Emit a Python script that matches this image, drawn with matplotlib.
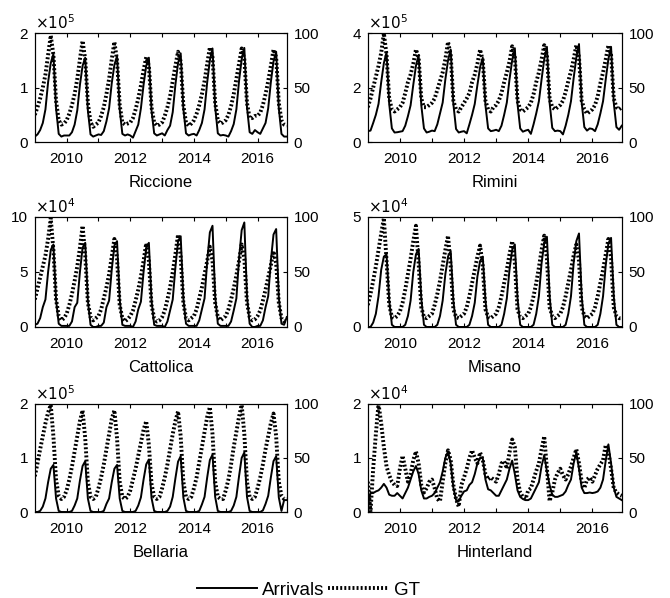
import matplotlib.pyplot as plt
from matplotlib.lines import Line2D

plt.rcParams['font.family'] = ['Liberation Sans', 'DejaVu Sans']

years = list(range(2009, 2017))
tick_years = list(range(2010, 2017))
tick_labels = ['2010', '', '2012', '', '2014', '', '2016']
gt_ticks = [0, 50, 100]

# monthly values, one row per year (Jan..Dec)
# arrivals in axis units (x10^5 or x10^4), GT index 0-100
riccione_arr = [
    [0.10, 0.14, 0.22, 0.35, 0.60, 1.10, 1.45, 1.62, 0.62, 0.15, 0.10, 0.12],
    [0.12, 0.12, 0.18, 0.32, 0.58, 1.05, 1.40, 1.55, 0.58, 0.14, 0.10, 0.12],
    [0.14, 0.13, 0.20, 0.38, 0.62, 1.08, 1.42, 1.58, 0.60, 0.15, 0.12, 0.14],
    [0.12, 0.08, 0.20, 0.32, 0.62, 1.05, 1.40, 1.55, 0.58, 0.16, 0.12, 0.14],
    [0.16, 0.12, 0.22, 0.30, 0.55, 1.05, 1.45, 1.63, 0.62, 0.16, 0.12, 0.14],
    [0.15, 0.12, 0.22, 0.35, 0.60, 1.10, 1.50, 1.72, 0.65, 0.16, 0.12, 0.13],
    [0.12, 0.10, 0.20, 0.33, 0.60, 1.12, 1.52, 1.73, 0.64, 0.18, 0.15, 0.22],
    [0.18, 0.15, 0.25, 0.35, 0.62, 1.10, 1.48, 1.66, 0.62, 0.15, 0.10, 0.10],
]
riccione_gt = [
    [25, 32, 40, 50, 62, 80, 98, 80, 38, 20, 16, 17],
    [20, 26, 34, 44, 58, 76, 93, 76, 36, 18, 14, 16],
    [18, 24, 32, 44, 58, 76, 92, 75, 34, 18, 16, 17],
    [18, 22, 30, 40, 52, 66, 78, 70, 32, 18, 15, 16],
    [18, 24, 32, 42, 56, 70, 83, 74, 34, 18, 15, 17],
    [20, 26, 34, 44, 56, 72, 87, 78, 36, 20, 17, 18],
    [20, 25, 33, 44, 58, 72, 86, 76, 36, 22, 22, 24],
    [24, 27, 34, 44, 56, 70, 85, 78, 36, 20, 16, 15],
]

rimini_arr = [
    [0.40, 0.42, 0.70, 1.00, 1.40, 2.20, 2.90, 3.30, 1.40, 0.50, 0.35, 0.36],
    [0.38, 0.40, 0.60, 0.95, 1.35, 2.10, 2.80, 3.20, 1.35, 0.50, 0.35, 0.38],
    [0.42, 0.40, 0.65, 1.05, 1.45, 2.30, 3.00, 3.40, 1.40, 0.48, 0.35, 0.38],
    [0.40, 0.32, 0.65, 1.00, 1.40, 2.10, 2.75, 3.10, 1.35, 0.50, 0.40, 0.42],
    [0.45, 0.40, 0.60, 1.00, 1.45, 2.30, 3.00, 3.45, 1.40, 0.50, 0.38, 0.42],
    [0.45, 0.30, 0.65, 1.05, 1.50, 2.30, 3.05, 3.50, 1.45, 0.52, 0.40, 0.42],
    [0.40, 0.28, 0.60, 1.00, 1.50, 2.35, 3.10, 3.60, 1.45, 0.55, 0.42, 0.50],
    [0.48, 0.40, 0.65, 1.05, 1.50, 2.30, 3.05, 3.50, 1.45, 0.55, 0.45, 0.60],
]
rimini_gt = [
    [32, 40, 50, 60, 70, 82, 100, 80, 40, 30, 28, 30],
    [32, 36, 45, 55, 62, 72, 85, 78, 40, 32, 32, 34],
    [36, 40, 48, 56, 64, 76, 92, 80, 38, 30, 28, 32],
    [36, 40, 45, 55, 62, 72, 85, 75, 38, 30, 28, 32],
    [34, 38, 45, 55, 64, 74, 88, 78, 38, 30, 28, 30],
    [32, 36, 44, 55, 64, 76, 89, 80, 40, 32, 30, 32],
    [34, 38, 46, 56, 65, 76, 89, 78, 38, 30, 26, 28],
    [30, 34, 42, 54, 64, 76, 89, 80, 40, 32, 30, 32],
]

cattolica_arr = [
    [0.2, 0.3, 0.8, 1.8, 2.5, 5.0, 7.0, 7.5, 2.5, 0.3, 0.1, 0.1],
    [0.1, 0.1, 0.5, 1.8, 2.2, 5.0, 7.2, 7.65, 2.4, 0.2, 0.0, 0.0],
    [0.1, 0.1, 0.4, 1.8, 2.4, 5.2, 7.4, 7.8, 2.5, 0.2, 0.1, 0.1],
    [0.1, 0.0, 0.5, 1.6, 2.3, 5.0, 7.2, 7.65, 2.4, 0.2, 0.1, 0.1],
    [0.1, 0.0, 0.5, 1.5, 2.5, 5.4, 7.8, 8.25, 2.6, 0.3, 0.1, 0.1],
    [0.1, 0.1, 0.6, 1.6, 2.6, 6.0, 8.6, 9.2, 2.8, 0.3, 0.1, 0.1],
    [0.1, 0.1, 0.5, 1.5, 2.6, 6.2, 8.8, 9.5, 2.8, 0.3, 0.0, 0.0],
    [0.1, 0.1, 0.6, 1.8, 2.8, 6.0, 8.4, 8.9, 2.7, 0.3, 0.2, 0.9],
]
cattolica_gt = [
    [25, 35, 45, 55, 65, 80, 99, 70, 25, 10, 6, 8],
    [12, 20, 30, 42, 55, 72, 92, 65, 22, 9, 6, 8],
    [10, 16, 26, 36, 48, 64, 80, 62, 20, 8, 5, 7],
    [10, 15, 24, 34, 46, 60, 76, 60, 20, 8, 5, 6],
    [9, 15, 25, 36, 50, 66, 84, 64, 22, 8, 6, 8],
    [10, 16, 26, 36, 48, 60, 73, 60, 22, 9, 6, 8],
    [10, 16, 25, 35, 47, 60, 75, 62, 22, 9, 6, 7],
    [10, 15, 24, 34, 45, 56, 69, 58, 22, 8, 5, 6],
]

misano_arr = [
    [0.0, 0.0, 0.2, 0.6, 1.4, 2.6, 3.2, 3.3, 1.2, 0.1, 0.0, 0.0],
    [0.0, 0.0, 0.1, 0.5, 1.2, 2.5, 3.3, 3.55, 1.3, 0.1, 0.0, 0.0],
    [0.0, 0.0, 0.1, 0.5, 1.2, 2.4, 3.2, 3.45, 1.2, 0.1, 0.0, 0.0],
    [0.0, 0.0, 0.1, 0.5, 1.1, 2.3, 3.0, 3.2, 1.2, 0.1, 0.0, 0.0],
    [0.0, 0.0, 0.1, 0.6, 1.3, 2.6, 3.5, 3.75, 1.3, 0.1, 0.0, 0.0],
    [0.0, 0.0, 0.1, 0.6, 1.4, 2.9, 3.8, 4.1, 1.4, 0.1, 0.0, 0.0],
    [0.0, 0.0, 0.1, 0.6, 1.4, 2.9, 3.9, 4.25, 1.4, 0.1, 0.0, 0.0],
    [0.0, 0.0, 0.1, 0.6, 1.4, 2.8, 3.8, 4.05, 1.4, 0.1, 0.0, 0.0],
]
misano_gt = [
    [20, 30, 42, 55, 70, 85, 99, 60, 20, 9, 8, 10],
    [14, 22, 34, 48, 62, 78, 92, 58, 18, 9, 8, 10],
    [12, 20, 30, 42, 56, 70, 83, 55, 16, 9, 8, 10],
    [12, 18, 28, 40, 52, 64, 74, 55, 16, 9, 8, 10],
    [12, 18, 28, 40, 52, 66, 78, 58, 16, 9, 8, 10],
    [12, 18, 28, 40, 54, 70, 83, 62, 18, 10, 8, 10],
    [12, 18, 28, 40, 52, 65, 75, 60, 18, 10, 8, 10],
    [12, 18, 28, 40, 52, 66, 80, 62, 18, 10, 8, 8],
]

bellaria_arr = [
    [0.0, 0.0, 0.02, 0.10, 0.25, 0.55, 0.80, 0.87, 0.25, 0.02, 0.0, 0.0],
    [0.0, 0.0, 0.02, 0.12, 0.25, 0.58, 0.85, 0.94, 0.25, 0.02, 0.0, 0.0],
    [0.0, 0.0, 0.02, 0.15, 0.25, 0.55, 0.80, 0.87, 0.25, 0.02, 0.0, 0.0],
    [0.0, 0.0, 0.02, 0.12, 0.27, 0.60, 0.88, 0.97, 0.26, 0.02, 0.0, 0.0],
    [0.0, 0.0, 0.02, 0.10, 0.28, 0.62, 0.93, 1.03, 0.27, 0.02, 0.0, 0.0],
    [0.0, 0.0, 0.02, 0.14, 0.28, 0.64, 0.96, 1.06, 0.28, 0.02, 0.0, 0.0],
    [0.0, 0.0, 0.02, 0.12, 0.28, 0.66, 1.00, 1.10, 0.28, 0.02, 0.0, 0.0],
    [0.0, 0.0, 0.03, 0.15, 0.30, 0.64, 0.94, 1.03, 0.27, 0.02, 0.22, 0.22],
]
bellaria_gt = [
    [33, 45, 58, 70, 82, 92, 99, 70, 30, 15, 12, 14],
    [20, 30, 42, 56, 70, 84, 94, 68, 28, 14, 12, 14],
    [22, 32, 44, 58, 72, 86, 94, 68, 28, 14, 12, 14],
    [20, 30, 40, 52, 64, 76, 84, 62, 26, 14, 12, 14],
    [22, 32, 44, 58, 72, 84, 93, 70, 28, 14, 12, 14],
    [22, 32, 46, 60, 74, 88, 97, 72, 28, 14, 12, 12],
    [20, 30, 44, 60, 74, 88, 99, 72, 28, 14, 12, 14],
    [22, 32, 44, 58, 70, 82, 91, 70, 28, 15, 12, 12],
]

hinterland_arr = [
    [0.10, 0.35, 0.35, 0.38, 0.40, 0.45, 0.52, 0.45, 0.32, 0.30, 0.30, 0.35],
    [0.30, 0.25, 0.35, 0.45, 0.60, 0.75, 0.85, 0.70, 0.40, 0.25, 0.25, 0.28],
    [0.30, 0.35, 0.45, 0.55, 0.75, 1.00, 1.12, 0.90, 0.45, 0.22, 0.20, 0.30],
    [0.38, 0.40, 0.50, 0.55, 0.70, 0.90, 1.00, 1.00, 0.60, 0.42, 0.40, 0.35],
    [0.30, 0.30, 0.40, 0.50, 0.60, 0.80, 0.95, 0.70, 0.40, 0.28, 0.24, 0.22],
    [0.22, 0.25, 0.35, 0.45, 0.55, 0.85, 1.05, 0.75, 0.50, 0.32, 0.28, 0.28],
    [0.30, 0.32, 0.38, 0.50, 0.60, 0.90, 1.10, 0.80, 0.45, 0.35, 0.35, 0.36],
    [0.35, 0.36, 0.38, 0.45, 0.60, 0.95, 1.25, 0.90, 0.45, 0.28, 0.25, 0.22],
]
hinterland_gt = [
    [28, 0, 40, 72, 100, 82, 60, 42, 34, 28, 25, 24],
    [40, 52, 40, 28, 35, 48, 56, 45, 25, 18, 22, 28],
    [30, 22, 12, 10, 28, 45, 57, 48, 25, 12, 5, 25],
    [32, 40, 50, 57, 50, 45, 55, 48, 35, 30, 32, 30],
    [28, 35, 45, 47, 40, 55, 67, 60, 30, 18, 14, 12],
    [20, 22, 30, 38, 45, 58, 70, 40, 10, 18, 30, 36],
    [40, 34, 30, 35, 42, 50, 58, 45, 28, 22, 30, 32],
    [28, 34, 40, 44, 48, 62, 55, 40, 22, 18, 16, 15],
]

names = ['Riccione', 'Rimini', 'Cattolica', 'Misano', 'Bellaria', 'Hinterland']
arrivals = [riccione_arr, rimini_arr, cattolica_arr, misano_arr, bellaria_arr, hinterland_arr]
gts = [riccione_gt, rimini_gt, cattolica_gt, misano_gt, bellaria_gt, hinterland_gt]
y_max = [2, 4, 10, 5, 2, 2]
y_ticks = [[0, 1, 2], [0, 2, 4], [0, 5, 10], [0, 5], [0, 1, 2], [0, 1, 2]]
exponents = [5, 5, 4, 4, 5, 4]

# axes boxes [left, bottom, width, height] in figure fractions
positions = [
    [0.052, 0.7625, 0.376, 0.182], [0.549, 0.7625, 0.379, 0.182],
    [0.052, 0.4532, 0.376, 0.184], [0.549, 0.4532, 0.379, 0.184],
    [0.052, 0.1438, 0.376, 0.181], [0.549, 0.1438, 0.379, 0.181],
]

months = [y + m / 12 for y in years for m in range(12)]

def flat(rows):
    return [v for row in rows for v in row]

dot_style = (0, (0.5, 0.55))

fig = plt.figure(figsize=(6.7, 5.98), dpi=100)
for i in range(6):
    ax = fig.add_axes(positions[i])
    ax.plot(months, flat(arrivals[i]), color='k', lw=1.4)
    ax2 = ax.twinx()
    ax2.plot(months, flat(gts[i]), color='k', lw=2.8, ls=dot_style)

    ax.set_xlim(2009, 2016 + 11 / 12)
    ax.set_ylim(0, y_max[i])
    ax.set_yticks(y_ticks[i])
    ax2.set_ylim(0, 100)
    ax2.set_yticks(gt_ticks)
    ax.set_xticks(tick_years)
    ax.set_xticklabels(tick_labels)
    ax.tick_params(axis='x', direction='in', top=True, length=3, labelsize=11, pad=7)
    ax.tick_params(axis='y', direction='in', length=3, labelsize=11, pad=5)
    ax2.tick_params(direction='in', length=3, labelsize=11, pad=5)
    ax.text(0.0, 1.01, r'$\times10^{%d}$' % exponents[i], transform=ax.transAxes,
            fontsize=11, va='bottom', ha='left')
    ax.set_xlabel(names[i], fontsize=12, labelpad=7)

handles = [Line2D([], [], color='k', lw=1.4),
           Line2D([], [], color='k', lw=2.8, ls=dot_style)]
fig.legend(handles, ['Arrivals', 'GT'], loc='center', bbox_to_anchor=(0.46, 0.013),
           ncol=2, frameon=False, fontsize=13.5, handlelength=3.2,
           columnspacing=0.2, handletextpad=0.3)

fig.savefig('out.png', dpi=100)
